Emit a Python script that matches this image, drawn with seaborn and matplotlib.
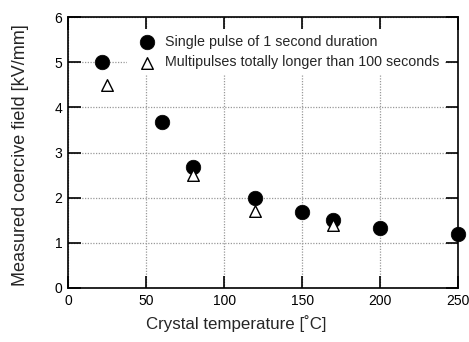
import matplotlib
matplotlib.use("Agg")
import matplotlib.pyplot as plt
import seaborn as sns
import pandas as pd

single_temp = [22, 60, 80, 120, 150, 170, 200, 250]
single_field = [5.0, 3.67, 2.67, 2.0, 1.68, 1.5, 1.33, 1.2]
multi_temp = [25, 80, 120, 170]
multi_field = [4.5, 2.5, 1.7, 1.4]
x_ticks = [0, 50, 100, 150, 200, 250]
y_ticks = [0, 1, 2, 3, 4, 5, 6]
label_single = "Single pulse of 1 second duration"
label_multi = "Multipulses totally longer than 100 seconds"

sns.set_style("ticks")
plt.rcParams['font.family'] = ['Liberation Sans', 'DejaVu Sans']

fig = plt.figure(figsize=(4.69, 3.42), dpi=100)
ax = fig.add_axes([0.145, 0.158, 0.832, 0.792])

df_s = pd.DataFrame({"T": single_temp, "E": single_field})
df_m = pd.DataFrame({"T": multi_temp, "E": multi_field})

sns.scatterplot(data=df_s, x="T", y="E", ax=ax, marker="o", s=110,
                color="black", edgecolor="black", linewidth=0.5,
                label=label_single, zorder=3, clip_on=False)
sns.scatterplot(data=df_m, x="T", y="E", ax=ax, marker="^", s=70,
                facecolor="white", edgecolor="black", linewidth=1.0,
                label=label_multi, zorder=4, clip_on=False)

ax.set_xlim(0, 250)
ax.set_ylim(0, 6)
ax.set_xticks(x_ticks)
ax.set_yticks(y_ticks)
ax.grid(True, linestyle=(0, (1, 1.2)), color="#999999", linewidth=0.9)
ax.set_axisbelow(True)
for sp in ax.spines.values():
    sp.set_visible(True)
    sp.set_color("black")
    sp.set_linewidth(1.2)
ax.tick_params(direction="in", length=9, width=1.2, top=True, right=True,
               labelsize=10, colors="black", pad=4)
ax.set_xlabel("Crystal temperature [\u02daC]", fontsize=12.2)
ax.xaxis.set_label_coords(0.43, -0.10)
ax.set_ylabel("Measured coercive field [kV/mm]", fontsize=13)
ax.yaxis.set_label_coords(-0.10, 0.49)

leg = ax.legend(loc="upper left", bbox_to_anchor=(0.152, 0.955), frameon=True,
                fontsize=10.3, handletextpad=0.2, borderpad=0.4,
                labelspacing=0.45, borderaxespad=0)
leg.get_frame().set_edgecolor("none")
leg.get_frame().set_facecolor("white")
leg.get_frame().set_alpha(1.0)
leg.get_frame().set_boxstyle("Square", pad=0.0)

fig.savefig("out.png", dpi=100)
